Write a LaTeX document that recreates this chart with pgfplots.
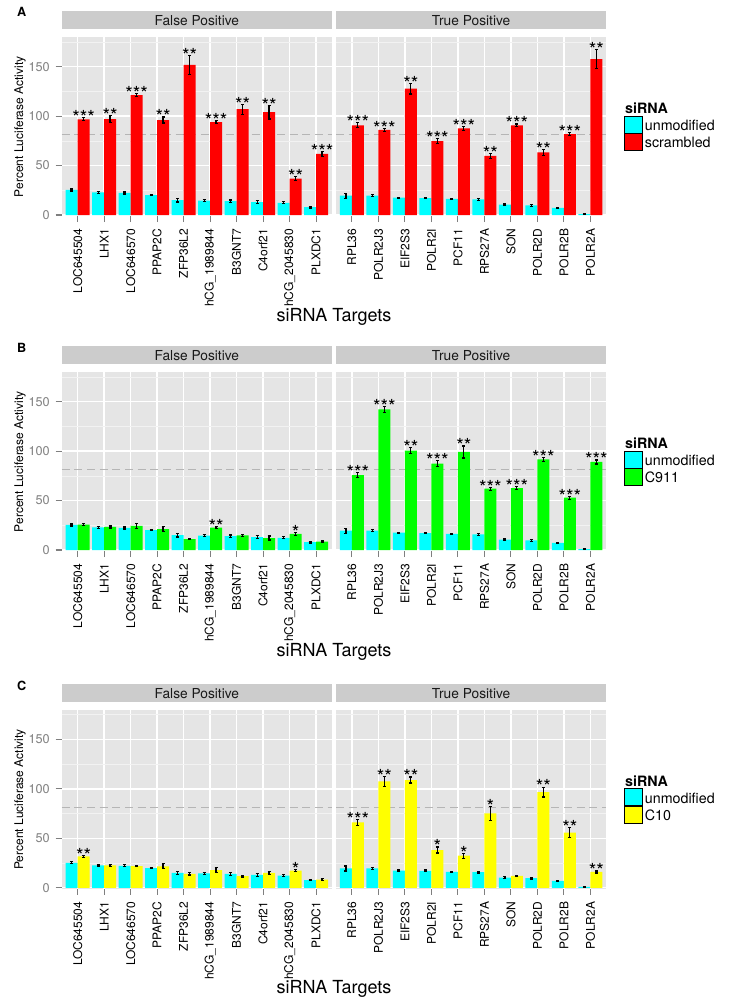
\documentclass[border=0pt]{standalone}
\usepackage{fontspec}
\setmainfont{TeX Gyre Heros}
\usepackage{pgfplots}
\usepackage{pgfplotstable}
\pgfplotsset{compat=1.18}
\definecolor{cyanc}{HTML}{00FFFF}
\definecolor{redc}{HTML}{FF0000}
\definecolor{greenc}{HTML}{00FF00}
\definecolor{yellowc}{HTML}{FFFF00}
\definecolor{bgc}{HTML}{E5E5E5}
\definecolor{stripc}{HTML}{CCCCCC}
\definecolor{minorc}{HTML}{F2F2F2}
\definecolor{tickc}{HTML}{7F7F7F}
\definecolor{dashc}{HTML}{B5B5B5}

% unmodified (shared by all panels)
\pgfplotstableread{
i y e
0 25.3 1.0
1 22.8 0.8
2 22.3 1.0
3 20.0 0.6
4 15.0 1.8
5 14.5 1.2
6 14.0 1.2
7 13.0 1.5
8 12.4 1.0
9 7.9 0.8
}\ctrlFP
\pgfplotstableread{
i y e
0 19.6 2.5
1 19.6 1.0
2 17.5 0.5
3 17.2 0.8
4 16.2 0.5
5 15.8 0.8
6 10.4 0.8
7 9.8 0.8
8 7.1 0.5
9 1.0 0.5
}\ctrlTP
% scrambled
\pgfplotstableread{
i y e s
0 96.7 1.5 ***
1 97.0 3.5 **
2 121.3 1.5 ***
3 96.0 3.0 **
4 151.7 9.5 **
5 94.0 1.5 ***
6 107.0 5.0 **
7 104.0 7.0 **
8 36.7 2.0 **
9 61.7 2.5 ***
}\scrFP
\pgfplotstableread{
i y e s
0 90.7 2.5 ***
1 86.0 1.7 ***
2 127.7 5.4 **
3 74.8 2.2 ***
4 87.6 2.0 ***
5 59.7 2.7 **
6 90.7 1.3 ***
7 63.4 3.0 **
8 81.9 1.3 ***
9 157.7 9.6 **
}\scrTP
% C911
\pgfplotstableread{
i y e s
0 25.6 1.0 {}
1 23.3 1.0 {}
2 24.3 2.5 {}
3 21.2 2.5 {}
4 11.1 0.8 {}
5 22.6 1.0 **
6 14.8 1.0 {}
7 12.1 2.0 {}
8 16.2 1.2 *
9 8.4 0.8 {}
}\cnFP
\pgfplotstableread{
i y e s
0 75.8 2.5 ***
1 142.2 3.0 ***
2 100.4 3.0 **
3 87.3 3.0 ***
4 99.1 6.0 **
5 62.0 1.5 ***
6 62.7 1.5 ***
7 91.7 2.0 ***
8 52.9 1.5 ***
9 89.0 2.0 ***
}\cnTP
% C10
\pgfplotstableread{
i y e s
0 31.8 1.0 **
1 22.8 1.0 {}
2 22.0 0.8 {}
3 21.8 2.5 {}
4 14.2 1.2 {}
5 17.8 2.5 {}
6 11.8 0.8 {}
7 15.0 1.5 {}
8 17.4 1.0 *
9 8.3 0.8 {}
}\cxFP
\pgfplotstableread{
i y e s
0 66.2 2.8 ***
1 107.6 5.0 **
2 109.0 3.0 **
3 38.2 3.0 *
4 32.5 2.5 *
5 75.3 7.0 *
6 12.0 0.8 {}
7 96.8 5.0 **
8 55.7 5.0 **
9 16.0 1.0 **
}\cxTP

\pgfplotsset{
  panel/.style={
    scale only axis, width=202.7pt, height=133.9pt,
    xmin=-0.6, xmax=9.6, ymin=-1, ymax=179.5,
    axis background/.style={fill=bgc},
    axis line style={draw=none},
    xtick={0,...,9}, ytick={0,50,100,150}, minor ytick={25,75,125,175},
    xmajorgrids=true, ymajorgrids=true, yminorgrids=true,
    major grid style={white, line width=1.0pt},
    minor grid style={minorc, line width=0.5pt},
    tick align=outside, xtick pos=bottom, ytick pos=left,
    major tick length=4.5pt, minor tick length=0pt,
    tick style={tickc, line width=0.8pt},
    xticklabel style={rotate=90, anchor=east, inner sep=0pt, xshift=-5pt, font=\fontsize{9}{10}\selectfont, text=black},
    yticklabel style={anchor=east, inner sep=0pt, xshift=-4.3pt, font=\fontsize{9.5}{10}\selectfont, text=tickc},
    /pgf/number format/assume math mode=true,
    title style={at={(0.5,1)}, anchor=south, yshift=0pt, fill=stripc,
      minimum width=202.7pt, minimum height=13.3pt, inner sep=0pt,
      font=\fontsize{10.3}{12}\selectfont, text=black!90},
  },
  bars/.style={ybar, bar width=0.45, bar shift=0pt, draw=none, forget plot,
    /pgfplots/error bars/y dir=both, /pgfplots/error bars/y explicit,
    /pgfplots/error bars/error bar style={black, line width=0.9pt},
    /pgfplots/error bars/error mark options={black, rotate=90, mark size=1.1pt, line width=0.9pt}},
  stars/.style={draw=none, mark=none, forget plot, nodes near coords,
    point meta=explicit symbolic,
    every node near coord/.style={anchor=base, inner sep=0pt, yshift=-5.1pt,
      font=\fontsize{14.5}{15}\selectfont, text=black}},
  dashln/.style={dashc, dash pattern=on 6pt off 3.5pt, line width=0.9pt, forget plot},
  keysq/.style={legend image code/.code={\fill[##1] (0pt,-1.95pt) rectangle (13.3pt,10.8pt);}},
}

\newcommand{\panel}[5]{%
\begin{axis}[panel, at={(46.3pt,#1)}, anchor=south west, title={False Positive},
  xticklabels={LOC645504,LHX1,LOC646570,PPAP2C,ZFP36L2,hCG\_1989844,B3GNT7,C4orf21,hCG\_2045830,PLXDC1},
  ylabel={Percent Luciferase Activity},
  ylabel style={at={(axis description cs:-0.1543,0.5)}, anchor=center, inner sep=0pt, font=\fontsize{9}{10}\selectfont},
  xlabel={siRNA Targets},
  xlabel style={at={(axis description cs:1.0074,0)}, anchor=base, yshift=-78.75pt, font=\fontsize{13.5}{15}\selectfont}]
 \addplot[dashln] coordinates {(-0.6,81.6) (9.6,81.6)};
 \addplot[fill=cyanc, bars] table[x expr=\thisrow{i}-0.225, y=y, y error=e] \ctrlFP;
 \addplot[fill=#4, bars] table[x expr=\thisrow{i}+0.225, y=y, y error=e] #2;
 \addplot[stars] table[x expr=\thisrow{i}+0.225, y expr=\thisrow{y}+\thisrow{e}, meta=s] #2;
\end{axis}
\begin{axis}[panel, at={(252pt,#1)}, anchor=south west, title={True Positive},
  xticklabels={RPL36,POLR2J3,EIF2S3,POLR2I,PCF11,RPS27A,SON,POLR2D,POLR2B,POLR2A},
  yticklabels={}, ytick style={draw=none},
  legend cell align=left,
  legend style={at={(1.0655,0.633)}, anchor=north west, draw=none, fill=none,
    inner sep=0pt, outer sep=0pt, column sep=2pt, row sep=0pt,
    font=\fontsize{10.7}{12}\selectfont, nodes={inner sep=0pt, anchor=base west}}]
 \addplot[dashln] coordinates {(-0.6,81.6) (9.6,81.6)};
 \addplot[fill=cyanc, bars] table[x expr=\thisrow{i}-0.225, y=y, y error=e] \ctrlTP;
 \addplot[fill=#4, bars] table[x expr=\thisrow{i}+0.225, y=y, y error=e] #3;
 \addplot[stars] table[x expr=\thisrow{i}+0.225, y expr=\thisrow{y}+\thisrow{e}, meta=s] #3;
 \addlegendimage{empty legend}
 \addlegendentry{\makebox[0pt][l]{\hspace*{-15.3pt}\textbf{siRNA}}\rule[-2.25pt]{0pt}{2.25pt}}
 \addlegendimage{keysq, fill=cyanc}
 \addlegendentry{unmodified}
 \addlegendimage{keysq, fill=#4}
 \addlegendentry{#5}
\end{axis}
}

\begin{document}
\begin{tikzpicture}
\useasboundingbox (0,0) rectangle (563.25pt,-756pt);
\panel{-162pt}{\scrFP}{\scrTP}{redc}{scrambled}
\panel{-413.25pt}{\cnFP}{\cnTP}{greenc}{C911}
\panel{-666.6pt}{\cxFP}{\cxTP}{yellowc}{C10}
\node[anchor=base west, inner sep=0pt, font=\bfseries\fontsize{9.5}{10}\selectfont] at (12.6pt,-12pt) {A};
\node[anchor=base west, inner sep=0pt, font=\bfseries\fontsize{9.5}{10}\selectfont] at (12.6pt,-264pt) {B};
\node[anchor=base west, inner sep=0pt, font=\bfseries\fontsize{9.5}{10}\selectfont] at (12.6pt,-517.5pt) {C};
\end{tikzpicture}
\end{document}
